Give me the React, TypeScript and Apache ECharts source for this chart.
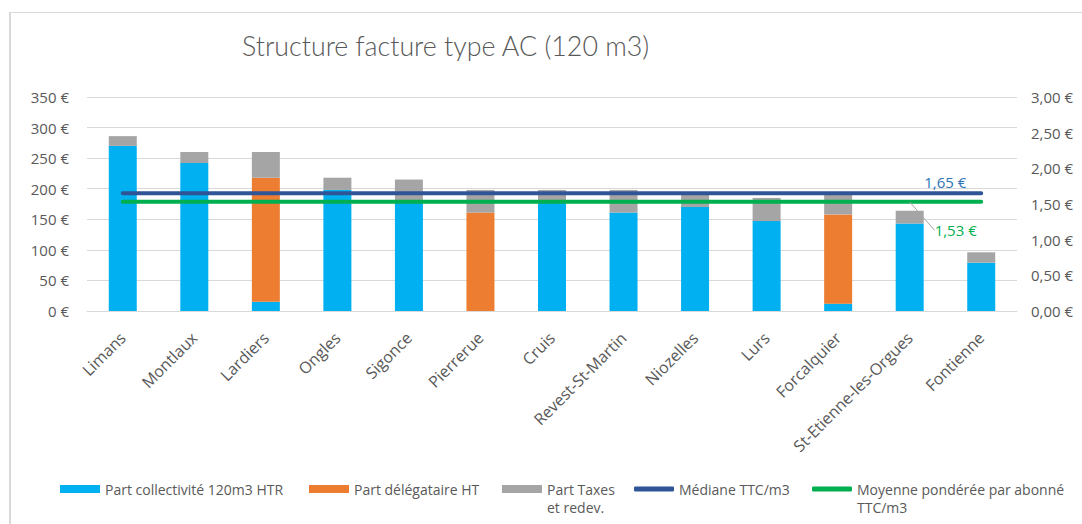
import React, { useEffect, useRef } from "react";
import * as echarts from "echarts";

const categories = [
  "Limans", "Montlaux", "Lardiers", "Ongles", "Sigonce", "Pierrerue", "Cruis",
  "Revest-St-Martin", "Niozelles", "Lurs", "Forcalquier", "St-Etienne-les-Orgues", "Fontienne",
];
const partCollectivite = [270, 242, 15, 198, 180, 0, 178, 161, 170, 147, 12, 143, 79];
const partDelegataire = [0, 0, 203, 0, 0, 161, 0, 0, 0, 0, 146, 0, 0];
const partTaxes = [16, 18, 42, 20, 35, 37, 20, 37, 20, 38, 34, 21, 17];
const medianeTTC = [1.65, 1.65, 1.65, 1.65, 1.65, 1.65, 1.65, 1.65, 1.65, 1.65, 1.65, 1.65, 1.65];
const moyennePonderee = [1.53, 1.53, 1.53, 1.53, 1.53, 1.53, 1.53, 1.53, 1.53, 1.53, 1.53, 1.53, 1.53];

const names = [
  "Part collectivité 120m3 HTR",
  "Part délégataire HT",
  "Part Taxes\net redev.",
  "Médiane TTC/m3",
  "Moyenne pondérée par abonné\nTTC/m3",
];

const FONT = "'Open Sans', sans-serif";
const GREY_TEXT = "#595959";

const eur0 = (v: number) => `${v} €`;
const eur2 = (v: number) => `${v.toFixed(2).replace(".", ",")} €`;

export default function App() {
  const ref = useRef<HTMLDivElement>(null);
  useEffect(() => {
    if (!ref.current) return;
    const chart = echarts.init(ref.current, undefined, { renderer: "svg" });
    const legendText = { fontFamily: FONT, fontSize: 14, color: GREY_TEXT, lineHeight: 18 };
    const mkLegend = (
      name: string,
      left: number,
      top: number,
      icon: string,
      w: number,
      h: number,
      twoLine: boolean
    ) => ({
      data: [name],
      left,
      top,
      icon,
      itemWidth: w,
      itemHeight: h,
      itemGap: 0,
      textStyle: legendText,
      padding: 0,
      formatter: twoLine ? (n: string) => "\n" + n : undefined,
    });
    chart.setOption({
      animation: false,
      backgroundColor: "#ffffff",
      title: {
        text: "Structure facture type AC (120 m3)",
        left: 226,
        top: 14,
        textStyle: { fontFamily: "Lato, sans-serif", fontWeight: 300, fontSize: 26.8, color: GREY_TEXT },
      },
      legend: [
        mkLegend(names[0], 49, 467, "rect", 40, 8, false),
        mkLegend(names[1], 298, 467, "rect", 40, 8, false),
        mkLegend(names[2], 491, 449, "rect", 40, 8, true),
        mkLegend(names[3], 623, 467, "roundRect", 40, 5, false),
        mkLegend(names[4], 801, 449, "roundRect", 40, 5, true),
      ],
      grid: { left: 76, top: 84, width: 930, height: 214 },
      xAxis: {
        type: "category",
        data: categories,
        axisTick: { show: false },
        axisLine: { lineStyle: { color: "#D9D9D9", width: 1 } },
        axisLabel: { rotate: 45, interval: 0, margin: 24, fontFamily: FONT, fontSize: 16, color: GREY_TEXT },
      },
      yAxis: [
        {
          type: "value",
          min: 0,
          max: 350,
          interval: 50,
          axisLine: { show: false },
          axisTick: { show: false },
          splitLine: { lineStyle: { color: "#D9D9D9" } },
          axisLabel: { formatter: eur0, margin: 18, fontFamily: FONT, fontSize: 15, color: GREY_TEXT },
        },
        {
          type: "value",
          min: 0,
          max: 3,
          interval: 0.5,
          axisLine: { show: false },
          axisTick: { show: false },
          splitLine: { show: false },
          axisLabel: { formatter: eur2, margin: 14, fontFamily: FONT, fontSize: 15, color: GREY_TEXT },
        },
      ],
      series: [
        { name: names[0], type: "bar", stack: "a", barWidth: 28, data: partCollectivite, itemStyle: { color: "#00B0F0" } },
        { name: names[1], type: "bar", stack: "a", barWidth: 28, data: partDelegataire, itemStyle: { color: "#ED7D31" } },
        { name: names[2], type: "bar", stack: "a", barWidth: 28, data: partTaxes, itemStyle: { color: "#A5A5A5" } },
        {
          name: names[3],
          type: "line",
          yAxisIndex: 1,
          symbol: "circle",
          symbolSize: 0,
          showSymbol: true,
          z: 5,
          itemStyle: { color: "#2F5597" },
          lineStyle: { color: "#2F5597", width: 4, cap: "round" },
          data: medianeTTC.map((v, i) =>
            i === medianeTTC.length - 1
              ? {
                  value: v,
                  label: {
                    show: true,
                    position: "top",
                    distance: 4,
                    offset: [-36, 0],
                    formatter: (p: any) => eur2(p.value),
                    fontFamily: FONT,
                    fontSize: 15,
                    color: "#2E75B6",
                  },
                }
              : v
          ),
        },
        {
          name: names[4],
          type: "line",
          yAxisIndex: 1,
          symbol: "circle",
          symbolSize: 0,
          showSymbol: true,
          z: 5,
          itemStyle: { color: "#00B050" },
          lineStyle: { color: "#00B050", width: 4, cap: "round" },
          labelLayout: { dx: 46, dy: 40 },
          labelLine: { show: true, lineStyle: { color: "#A5A5A5", width: 1 } },
          data: moyennePonderee.map((v, i) =>
            i === moyennePonderee.length - 2
              ? {
                  value: v,
                  label: {
                    show: true,
                    position: "top",
                    distance: 4,
                    formatter: (p: any) => eur2(p.value),
                    fontFamily: FONT,
                    fontSize: 15,
                    color: "#00B050",
                  },
                }
              : v
          ),
        },
      ],
    });
    return () => chart.dispose();
  }, []);
  return (
    <div
      style={{
        position: "absolute",
        left: 9,
        top: 12,
        borderTop: "1px solid #D9D9D9",
        borderLeft: "2px solid #D9D9D9",
        background: "#fff",
      }}
    >
      <div ref={ref} style={{ width: 1071, height: 511 }} />
    </div>
  );
}
